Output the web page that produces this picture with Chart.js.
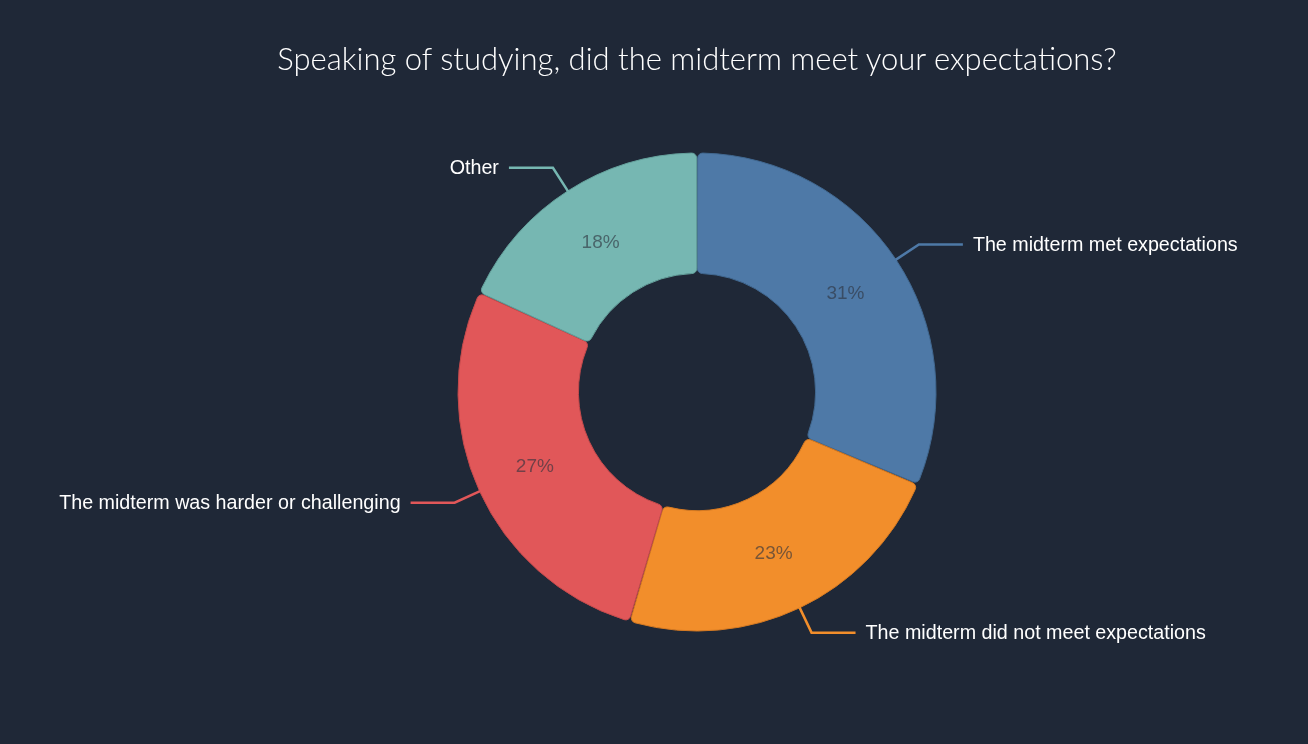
<!DOCTYPE html>
<html>
<head>
<meta charset="utf-8">
<script src="https://cdn.jsdelivr.net/npm/chart.js@4/dist/chart.umd.min.js"></script>
<style>
  html, body { margin: 0; padding: 0; background: #1f2837; }
  #wrap { position: relative; width: 1308px; height: 744px; }
  #title { position: absolute; left: 0; top: 40px; width: 1394px; text-align: center; line-height: 36px;
           font-family: Lato, "Open Sans", sans-serif; font-size: 31px; color: #ffffff; font-weight: 300; white-space: nowrap; }
  canvas { position: absolute; left: 0; top: 0; }
</style>
</head>
<body>
<div id="wrap">
  <canvas id="c" width="1308" height="744"></canvas>
  <div id="title">Speaking of studying, did the midterm meet your expectations?</div>
</div>
<script>
const categories = [
  "The midterm met expectations",
  "The midterm did not meet expectations",
  "The midterm was harder or challenging",
  "Other"
];
const values = [31, 23, 27, 18];
const percentLabels = ["31%", "23%", "27%", "18%"];
const colors = ["#4e79a7", "#f28e2b", "#e15759", "#76b7b2"];
const borderColors = ["#416890", "#d67a22", "#c44a4c", "#64a19c"];

const calloutPlugin = {
  id: 'callouts',
  afterDatasetsDraw(chart) {
    const ctx = chart.ctx;
    const meta = chart.getDatasetMeta(0);
    meta.data.forEach((arc, i) => {
      const p = arc.getProps(['x', 'y', 'startAngle', 'endAngle', 'outerRadius', 'innerRadius'], true);
      const mid = (p.startAngle + p.endAngle) / 2;
      const c = Math.cos(mid), s = Math.sin(mid);
      // percent label
      const rm = (p.outerRadius + p.innerRadius) / 2;
      ctx.save();
      ctx.font = '19px "Liberation Sans", Arial, sans-serif';
      ctx.fillStyle = 'rgba(45,50,62,0.62)';
      ctx.textAlign = 'center';
      ctx.textBaseline = 'middle';
      ctx.fillText(percentLabels[i], p.x + rm * c, p.y + rm * s + 1);
      // leader line
      const x0 = p.x + p.outerRadius * c, y0 = p.y + p.outerRadius * s;
      const x1 = p.x + (p.outerRadius + 28) * c, y1 = p.y + (p.outerRadius + 28) * s;
      const dir = c >= 0 ? 1 : -1;
      const x2 = x1 + dir * 44;
      ctx.strokeStyle = colors[i];
      ctx.lineWidth = 2.5;
      ctx.lineJoin = 'miter';
      ctx.beginPath();
      ctx.moveTo(x0, y0);
      ctx.lineTo(x1, y1);
      ctx.lineTo(x2, y1);
      ctx.stroke();
      ctx.font = '19.7px "Liberation Sans", Arial, sans-serif';
      ctx.fillStyle = '#ffffff';
      ctx.textAlign = dir > 0 ? 'left' : 'right';
      ctx.fillText(categories[i], x2 + dir * 10, y1 + 1);
      ctx.restore();
    });
  }
};

new Chart(document.getElementById('c'), {
  type: 'doughnut',
  data: {
    labels: categories,
    datasets: [{
      data: values,
      backgroundColor: colors,
      borderColor: borderColors,
      borderWidth: 1,
      borderRadius: 5,
      spacing: 1
    }]
  },
  options: {
    responsive: false,
    animation: false,
    cutout: '49.5%',
    layout: { padding: { top: 152.5, bottom: 112.5, left: 200, right: 114 } },
    plugins: {
      legend: { display: false },
      tooltip: { enabled: false },
      title: { display: false }
    }
  },
  plugins: [calloutPlugin]
});
</script>
</body>
</html>
